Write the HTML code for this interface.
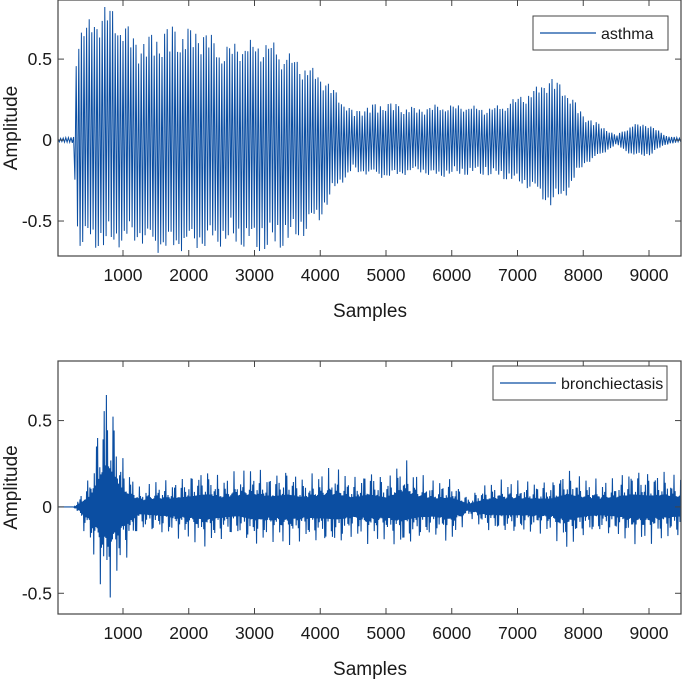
<!DOCTYPE html>
<html><head><meta charset="utf-8">
<style>
body{margin:0;background:#fff;width:683px;height:681px;overflow:hidden;font-family:"Liberation Sans",sans-serif;}
svg text{font-family:"Liberation Sans",sans-serif;fill:#1a1a1a;}
</style></head>
<body>
<svg id="chart" width="683" height="681" viewBox="0 0 683 681" xmlns="http://www.w3.org/2000/svg"></svg>
<script>
// Envelope data (sample index -> upper/lower amplitude)
const envX = [0,250,300,500,750,1000,1250,1500,1750,2000,2250,2500,2750,3000,3250,3500,3750,4000,4250,4500,4750,5000,5250,5500,5750,6000,6250,6500,6750,7000,7250,7500,7750,8000,8250,8500,8750,9000,9250,9500];
const asthmaUpper = [0.01,0.02,0.72,0.75,0.86,0.75,0.62,0.68,0.72,0.7,0.7,0.58,0.62,0.62,0.62,0.55,0.48,0.42,0.3,0.18,0.22,0.24,0.22,0.2,0.22,0.22,0.22,0.2,0.22,0.27,0.32,0.4,0.32,0.16,0.1,0.03,0.1,0.1,0.03,0.01];
const asthmaLower = [-0.01,-0.02,-0.66,-0.68,-0.68,-0.66,-0.64,-0.7,-0.7,-0.68,-0.68,-0.66,-0.66,-0.7,-0.7,-0.66,-0.6,-0.5,-0.3,-0.2,-0.22,-0.24,-0.22,-0.2,-0.24,-0.22,-0.22,-0.22,-0.24,-0.27,-0.32,-0.42,-0.34,-0.16,-0.1,-0.03,-0.1,-0.1,-0.03,-0.01];
const bronchUpper = [0,0.0,0.03,0.2,0.85,0.3,0.12,0.16,0.16,0.2,0.24,0.18,0.22,0.24,0.2,0.24,0.18,0.22,0.24,0.18,0.24,0.18,0.3,0.2,0.16,0.18,0.06,0.14,0.16,0.16,0.16,0.16,0.24,0.18,0.16,0.18,0.24,0.22,0.22,0.18];
const bronchLower = [0,0.0,-0.03,-0.25,-0.6,-0.36,-0.14,-0.16,-0.18,-0.2,-0.24,-0.2,-0.18,-0.24,-0.2,-0.24,-0.2,-0.22,-0.24,-0.18,-0.22,-0.2,-0.26,-0.2,-0.18,-0.22,-0.06,-0.14,-0.16,-0.16,-0.16,-0.16,-0.26,-0.18,-0.16,-0.18,-0.22,-0.22,-0.2,-0.18];
const xTicks = [1000,2000,3000,4000,5000,6000,7000,8000,9000];
const yTicks = [-0.5,0,0.5];

const svg = document.getElementById('chart');
const NS = 'http://www.w3.org/2000/svg';
function mk(tag, attrs, parent){const e=document.createElementNS(NS,tag);for(const k in attrs)e.setAttribute(k,attrs[k]);(parent||svg).appendChild(e);return e;}
function interp(arr,v){for(let i=0;i<envX.length-1;i++){if(v<=envX[i+1]){const t=(v-envX[i])/(envX[i+1]-envX[i]);return arr[i]+(arr[i+1]-arr[i])*t;}}return arr[arr.length-1];}

function panel(cfg){
  const {top,bottom,ymax,ymin,upper,lower,label,name,legend,step,fmin,sw}=cfg;
  const L=58,R=681;
  const xs=v=>123+(v-1000)*0.06575;
  const ys=v=>top+(ymax-v)/(ymax-ymin)*(bottom-top);
  const g=mk('g',{});
  
  
  const clip=mk('clipPath',{id:'clip-'+name},g);
  mk('rect',{x:L,y:top,width:R-L,height:bottom-top},clip);
  let d='';let i=0;
  for(let px=L;px<=R;px+=step){
    const v=(px-123)/0.06575+1000;
    const w=Math.abs(Math.sin(i*1.37)*Math.cos(i*0.53));
    const f=fmin+(1-fmin)*Math.pow(w,cfg.pw);
    const a=(i%2===0)?interp(upper,v)*f:interp(lower,v)*f;
    d+=(i===0?'M':'L')+px.toFixed(2)+','+ys(a).toFixed(2);
    i++;
  }
  const p=mk('path',{d:d,fill:'none',stroke:'#0b4ea2','stroke-width':sw,'clip-path':'url(#clip-'+name+')'},g);
  
  
  const box=mk('rect',{x:L,y:top,width:R-L,height:bottom-top,fill:'none',stroke:'#444','stroke-width':1.2},g);
  
  
  xTicks.forEach(t=>{
    const x=xs(t);
    mk('line',{x1:x,x2:x,y1:bottom,y2:bottom-6,stroke:'#444'},g);
    mk('line',{x1:x,x2:x,y1:top,y2:top+6,stroke:'#444'},g);
    const tx=mk('text',{x:x,y:bottom+25,'text-anchor':'middle','font-size':17.5},g);
    tx.textContent=t;
    
    
  });
  yTicks.forEach(t=>{
    const y=ys(t);
    mk('line',{x1:L,x2:L+6,y1:y,y2:y,stroke:'#444'},g);
    mk('line',{x1:R,x2:R-6,y1:y,y2:y,stroke:'#444'},g);
    const tx=mk('text',{x:L-6,y:y+6,'text-anchor':'end','font-size':17.5},g);
    tx.textContent=t;
    
    
  });
  const xl=mk('text',{x:370,y:bottom+61,'text-anchor':'middle','font-size':19},g);
  xl.textContent='Samples';
  
  
  const yc=(top+bottom)/2;
  const yl=mk('text',{x:17,y:yc,'text-anchor':'middle','font-size':19,transform:'rotate(-90 17 '+yc+')'},g);
  yl.textContent='Amplitude';
  
  
  const lg=mk('g',{},g);
  
  
  mk('rect',{x:legend.x,y:legend.y,width:legend.w,height:34,fill:'#fff',stroke:'#444'},lg);
  mk('line',{x1:legend.x+7,x2:legend.x+63,y1:legend.y+17,y2:legend.y+17,stroke:'#0b4ea2','stroke-width':1.2},lg);
  const lt=mk('text',{x:legend.x+68,y:legend.y+23,'font-size':16},lg);
  lt.textContent=label;
  
  
}
panel({top:0,bottom:256,ymax:0.865,ymin:-0.716,upper:asthmaUpper,lower:asthmaLower,label:'asthma',name:'asthma',legend:{x:533,y:16,w:135},step:1.3,fmin:0.72,pw:0.5,sw:1});
panel({top:361,bottom:614,ymax:0.845,ymin:-0.62,upper:bronchUpper,lower:bronchLower,label:'bronchiectasis',name:'bronchiectasis',legend:{x:493,y:366,w:174},step:0.55,fmin:0.3,pw:2,sw:1.1});
</script>
</body></html>
